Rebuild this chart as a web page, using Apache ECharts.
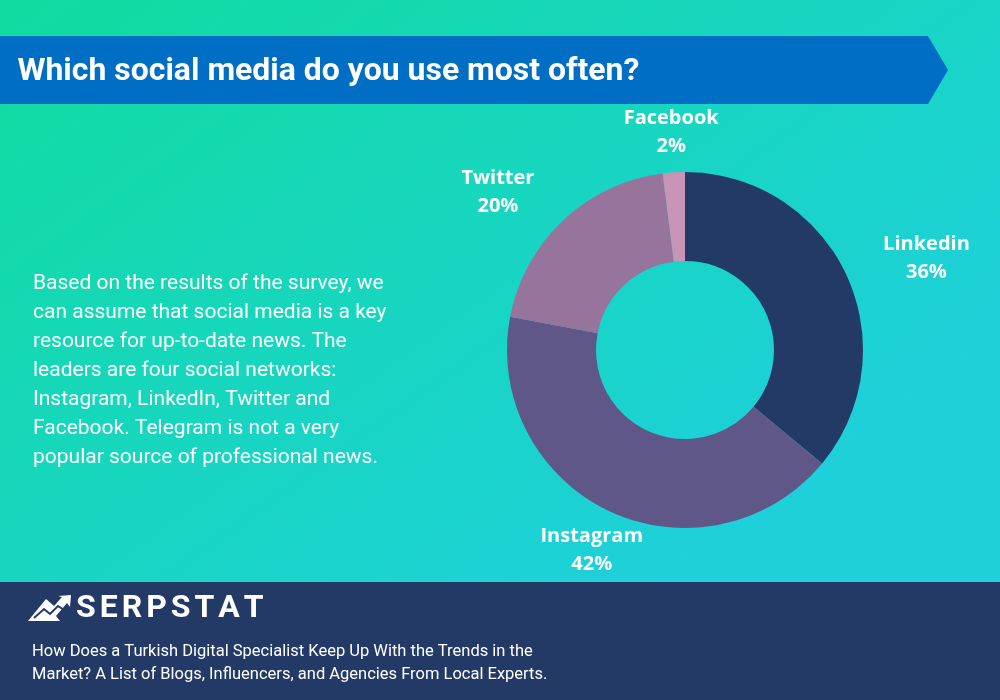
<!DOCTYPE html>
<html><head><meta charset="utf-8">
<script src="https://cdn.jsdelivr.net/npm/echarts@6/dist/echarts.min.js"></script>
<style>html,body{margin:0;padding:0;}#c{width:1000px;height:700px;}</style>
</head><body><div id="c"></div>
<script>
const categories = ['Linkedin', 'Instagram', 'Twitter', 'Facebook'];
const shares = [36, 42, 20, 2];
const sliceColors = ['#233966', '#5f5788', '#97749c', '#c895b7'];
const titleText = 'Which social media do you use most often?';
const bodyLines = [
  'Based on the results of the survey, we',
  'can assume that social media is a key',
  'resource for up-to-date news. The',
  'leaders are four social networks:',
  'Instagram, LinkedIn, Twitter and',
  'Facebook. Telegram is not a very',
  'popular source of professional news.'
];
const brand = 'SERPSTAT';
const captionLines = [
  'How Does a Turkish Digital Specialist Keep Up With the Trends in the',
  'Market? A List of Blogs, Influencers, and Agencies From Local Experts.'
];

const chart = echarts.init(document.getElementById('c'), null, {renderer: 'canvas'});
const ctx = document.createElement('canvas').getContext('2d');
function measure(t, font){ ctx.font = font; return ctx.measureText(t).width; }

const CX = 685, CY = 350;
// label distance from centre and fine offsets (layout only)
const labelR = [258, 219, 247, 220];
const labelOff = [[8, 18], [0, 2], [-18, 22], [0, 2]];
const total = shares.reduce((a, b) => a + b, 0);
const mids = []; let acc = 0;
shares.forEach(v => { mids.push((acc + v / 2) / total * 2 * Math.PI); acc += v; });

const graphics = [];
graphics.push({type: 'rect', z: -10, silent: true, shape: {x: 0, y: 0, width: 1000, height: 700},
  style: {fill: new echarts.graphic.LinearGradient(0, 0, 0.5, 1, [
    {offset: 0, color: '#10dc9e'}, {offset: 0.55, color: '#17d6c0'}, {offset: 1, color: '#1ed0da'}])}});
graphics.push({type: 'polygon', z: -5, silent: true,
  shape: {points: [[0, 36], [928, 36], [948, 70], [928, 104], [0, 104]]}, style: {fill: '#006ec4'}});
const titleFont = 'bold 31px Roboto';
const tw = measure(titleText, titleFont);
graphics.push({type: 'text', x: 18, y: 72, scaleX: 622 / tw, originX: 18, style: {text: titleText, font: titleFont, fill: '#fff', verticalAlign: 'middle', align: 'left'}});
bodyLines.forEach((l, i) => graphics.push({type: 'text', x: 33, y: 284 + i * 29,
  style: {text: l, font: '21px Roboto', fill: '#fff', verticalAlign: 'middle'}}));
graphics.push({type: 'rect', z: -5, silent: true, shape: {x: 0, y: 582, width: 1000, height: 118}, style: {fill: '#243a66'}});
// logo icon
graphics.push({type: 'polygon', shape: {points: [[28, 621], [46, 599], [54, 606], [62, 597], [58, 596], [71, 595], [70, 607], [67, 603], [56, 616], [60, 621]]}, style: {fill: '#fff'}});
graphics.push({type: 'polyline', shape: {points: [[34, 618], [44, 609], [50, 614], [58, 606], [64, 610]]}, style: {stroke: '#243a66', lineWidth: 2, fill: null}});
const bFont = 'bold 32px Roboto';
let bx = 76;
for (const ch of brand) {
  graphics.push({type: 'text', x: bx, y: 609, style: {text: ch, font: bFont, fill: '#fff', verticalAlign: 'middle'}});
  bx += measure(ch, bFont) + 4;
}
captionLines.forEach((l, i) => graphics.push({type: 'text', x: 32, y: 652 + i * 23,
  style: {text: l, font: '16.5px Roboto', fill: '#fff', verticalAlign: 'middle'}}));

chart.setOption({
  animation: false,
  graphic: graphics,
  series: [{
    type: 'pie', center: [CX, CY], radius: [89, 178], startAngle: 90, clockwise: true,
    silent: true,
    data: categories.map((n, i) => ({name: n, value: shares[i], itemStyle: {color: sliceColors[i]}})),
    label: {show: true, position: 'outside', formatter: p => p.name + '\n' + p.value + '%',
      color: '#fff', fontFamily: 'Open Sans', fontWeight: 'bold', fontSize: 20, lineHeight: 28, align: 'center'},
    labelLine: {show: false},
    labelLayout: p => {
      const i = p.dataIndex;
      return {x: CX + labelR[i] * Math.sin(mids[i]) + labelOff[i][0],
              y: CY - labelR[i] * Math.cos(mids[i]) + labelOff[i][1],
              align: 'center', verticalAlign: 'middle'};
    }
  }]
});
</script></body></html>
